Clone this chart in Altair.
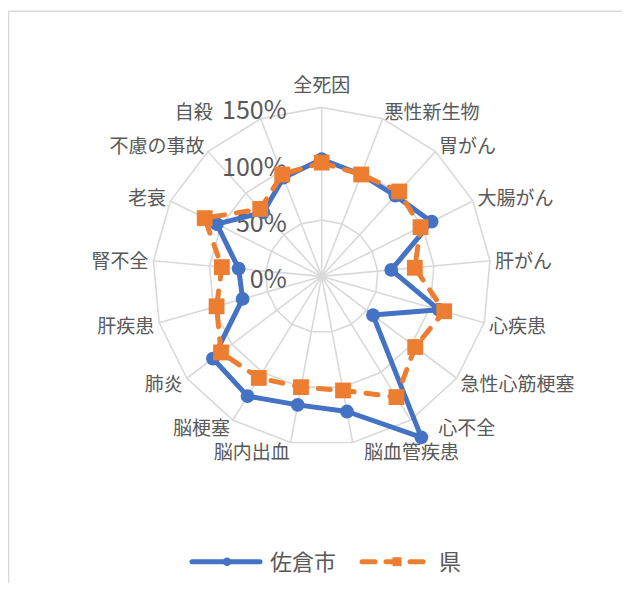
import altair as alt
import pandas as pd

categories = ["全死因", "悪性新生物", "胃がん", "大腸がん", "肝がん", "心疾患", "急性心筋梗塞",
              "心不全", "脳血管疾患", "脳内出血", "脳梗塞", "肺炎", "肝疾患", "腎不全",
              "老衰", "不慮の事故", "自殺"]
sakura = [104, 97, 97, 109, 62, 108, 57, 168, 122, 116, 125, 121, 73, 74, 104, 77, 94]
ken = [101, 97, 102, 98, 83, 113, 104, 126, 103, 100, 106, 112, 97, 89, 116, 81, 97]
tick_values = [0, 50, 100, 150]
tick_labels = ["0%", "50%", "100%", "150%"]
series_names = ["佐倉市", "県"]

N = len(categories)
RMAX = 150
W, H = 614, 575
CX, CY = 313.7, 268.4
K = 169 / 150
xs = alt.Scale(domain=[-CX / K, (W - CX) / K], nice=False, zero=False)
ys = alt.Scale(domain=[-(H - CY) / K, CY / K], nice=False, zero=False)

BLUE = "#4472C4"
ORANGE = "#ED7D31"
GRID = "#D9D9D9"
TXT = "#595959"
FONT = "Noto Sans CJK JP"

ANG = f"datum.idx * 2 * PI / {N}"

# series data
rows = []
for s, vals in zip(series_names, [sakura, ken]):
    for i in range(N + 1):
        rows.append({"series": s, "cat": categories[i % N], "idx": i, "value": vals[i % N]})
sdf = pd.DataFrame(rows)

# ring data
ring_rows = []
for lv in tick_values[1:]:
    for i in range(N + 1):
        ring_rows.append({"level": lv, "idx": i})
rdf = pd.DataFrame(ring_rows)

cdf = pd.DataFrame({"cat": categories, "idx": list(range(N)), "a": sakura, "b": ken})
tdf = pd.DataFrame({"v": tick_values, "label": tick_labels})

X = lambda f: alt.X(f, type="quantitative", scale=xs, axis=None)
Y = lambda f: alt.Y(f, type="quantitative", scale=ys, axis=None)

rings = alt.Chart(rdf).transform_calculate(
    px=f"datum.level * sin({ANG})", py=f"datum.level * cos({ANG})"
).mark_line(color=GRID, strokeWidth=1.6).encode(
    x=X("px"), y=Y("py"), detail="level:N", order="idx:Q"
)

spokes = alt.Chart(cdf).transform_calculate(
    x0="0", y0="0",
    px=f"{RMAX} * sin({ANG})", py=f"{RMAX} * cos({ANG})"
).mark_rule(color=GRID, strokeWidth=1.6).encode(
    x=X("x0"), y=Y("y0"), x2="px:Q", y2="py:Q"
)

AXL = -31  # right edge of the percentage labels (data units left of centre)
axis_labels = alt.Chart(tdf).transform_calculate(
    px=f"{AXL}", py="datum.v"
).mark_text(align="right", baseline="middle", dy=4, font=FONT, fontSize=25, color=TXT).encode(
    x=X("px"), y=Y("py"), text="label:N"
)

LR = RMAX + 5 / K
GAP = 17 / K
AX_LEFT = AXL - 61 / K - 13 / K  # keep clear of the "150%" label
lab_base = alt.Chart(cdf).transform_calculate(
    s=f"sin({ANG})", c=f"cos({ANG})",
    mx="max(datum.a, datum.b)",
    py=f"{LR + 3} * cos({ANG})"
).transform_calculate(
    pxl=f"max({LR} * datum.s, datum.mx * datum.s + {GAP})",
    pxr0=f"{LR} * datum.s",
).transform_calculate(
    pxr=f"(datum.py > {RMAX - 20} && datum.pxr0 > {AX_LEFT}) ? {AX_LEFT} : datum.pxr0"
)
lab_left = lab_base.transform_filter("datum.s > 0.05").mark_text(
    align="left", baseline="middle", dy=2, font=FONT, fontSize=19, color=TXT
).encode(x=X("pxl"), y=Y("py"), text="cat:N")
lab_right = lab_base.transform_filter("datum.s < -0.05").mark_text(
    align="right", baseline="middle", dy=2, font=FONT, fontSize=19, color=TXT
).encode(x=X("pxr"), y=Y("py"), text="cat:N")
lab_center = lab_base.transform_filter("abs(datum.s) <= 0.05").mark_text(
    align="center", baseline="bottom", dy=-3.5, font=FONT, fontSize=19, color=TXT
).encode(x=X("pxr0"), y=Y("py"), text="cat:N")

sbase = alt.Chart(sdf).transform_calculate(
    px=f"datum.value * sin({ANG})", py=f"datum.value * cos({ANG})"
)
blue_line = sbase.transform_filter(f"datum.series == '{series_names[0]}'").mark_line(
    color=BLUE, strokeWidth=5, strokeJoin="round"
).encode(x=X("px"), y=Y("py"), order="idx:Q")
blue_pts = sbase.transform_filter(f"datum.series == '{series_names[0]}' && datum.idx < {N}").mark_point(
    shape="circle", filled=True, color=BLUE, size=190, opacity=1
).encode(x=X("px"), y=Y("py"))
orange_line = sbase.transform_filter(f"datum.series == '{series_names[1]}'").mark_line(
    color=ORANGE, strokeWidth=5, strokeDash=[12, 12], strokeCap="round", strokeJoin="round"
).encode(x=X("px"), y=Y("py"), order="idx:Q")
orange_pts = sbase.transform_filter(f"datum.series == '{series_names[1]}' && datum.idx < {N}").mark_point(
    shape="square", filled=True, color=ORANGE, size=250, opacity=1
).encode(x=X("px"), y=Y("py"))

# legend
ldf = pd.DataFrame({"series": series_names})
LY = 553.7
leg_b = alt.Chart(ldf).transform_filter(f"datum.series == '{series_names[0]}'")
leg_o = alt.Chart(ldf).transform_filter(f"datum.series == '{series_names[1]}'")
legend = [
    leg_b.mark_rule(color=BLUE, strokeWidth=5, strokeCap="round").encode(
        x=alt.value(184), x2=alt.value(252), y=alt.value(LY)),
    leg_b.mark_point(shape="circle", filled=True, color=BLUE, size=70, opacity=1).encode(
        x=alt.value(219), y=alt.value(LY)),
    leg_b.mark_text(align="left", baseline="middle", font=FONT, fontSize=22, color=TXT).encode(
        x=alt.value(262), y=alt.value(LY + 1), text="series:N"),
    leg_o.mark_rule(color=ORANGE, strokeWidth=5, strokeCap="round", strokeDash=[13, 11]).encode(
        x=alt.value(354), x2=alt.value(422), y=alt.value(LY)),
    leg_o.mark_point(shape="square", filled=True, color=ORANGE, size=80, opacity=1).encode(
        x=alt.value(389), y=alt.value(LY)),
    leg_o.mark_text(align="left", baseline="middle", font=FONT, fontSize=22, color=TXT).encode(
        x=alt.value(431), y=alt.value(LY + 1), text="series:N"),
]

border = [
    alt.Chart(ldf.head(1)).mark_rule(color=GRID, strokeWidth=1.5).encode(
        x=alt.value(0.5), y=alt.value(3.3), y2=alt.value(H)),
    alt.Chart(ldf.head(1)).mark_rule(color=GRID, strokeWidth=1.5).encode(
        x=alt.value(0.5), x2=alt.value(W), y=alt.value(3.3)),
]

chart = alt.layer(
    rings, spokes, axis_labels, lab_left, lab_right, lab_center,
    blue_line, blue_pts, orange_line, orange_pts, *legend, *border
).properties(
    width=W, height=H, autosize=alt.AutoSizeParams(type="none"), padding=0, background="white"
).configure_view(stroke=None)

chart.save("out.html", embed_options={"renderer": "svg", "actions": False})
